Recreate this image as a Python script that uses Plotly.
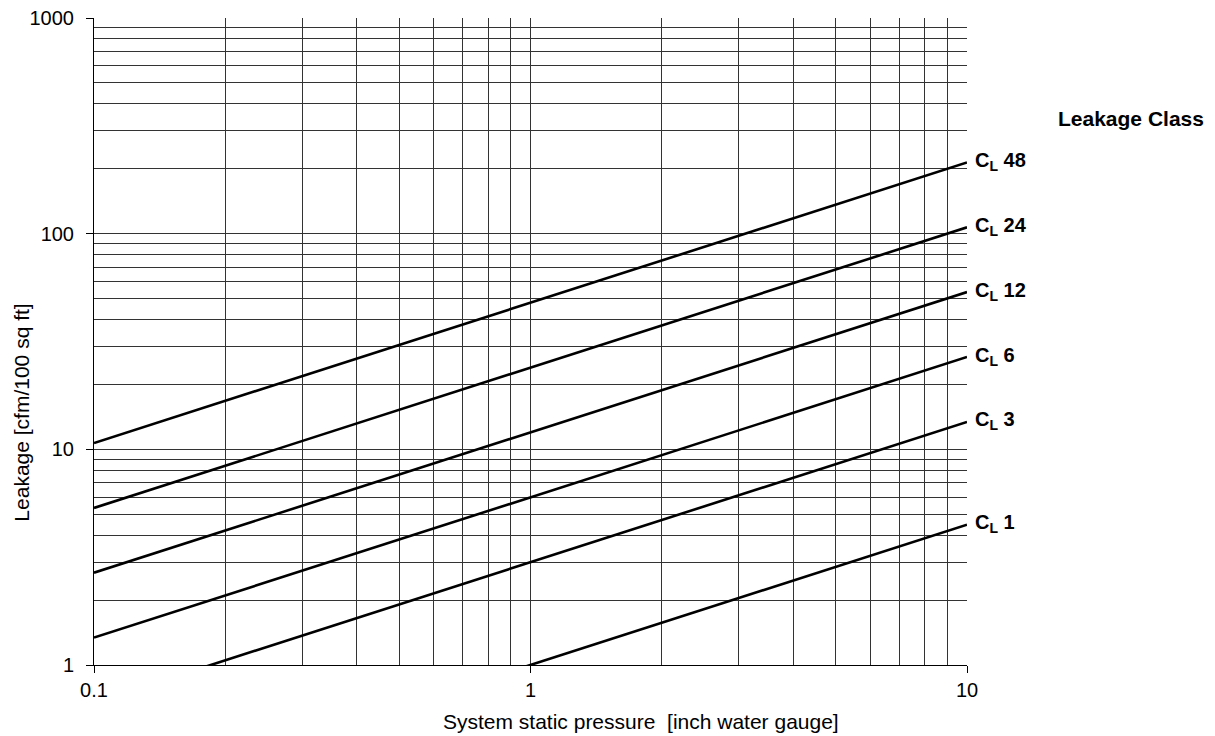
import plotly.graph_objects as go
import numpy as np

# Data (line endpoints at 0.1 and 10 in. w.g.)
pressure = [0.1, 10]
classes = ["48", "24", "12", "6", "3", "1"]
leak_at_01 = [10.7, 5.35, 2.68, 1.34, 0.67, 0.224]
leak_at_10 = [214, 107, 53.6, 26.8, 13.4, 4.47]

x_ticks = [0.1, 1, 10]
x_ticklabels = ["0.1", "1", "10"]
y_ticks = [1, 10, 100, 1000]
y_ticklabels = ["1", "10", "100", "1000"]

FONT = "Liberation Sans, Arial, sans-serif"

fig = go.Figure()
for c, a, b in zip(classes, leak_at_01, leak_at_10):
    fig.add_trace(go.Scatter(x=pressure, y=[a, b], mode="lines",
                             line=dict(color="black", width=2.6),
                             showlegend=False, hoverinfo="skip", cliponaxis=True))
    fig.add_annotation(x=1, xref="paper", y=np.log10(b), yref="y",
                       text=f"<b>C<sub>L</sub> {c}</b>", showarrow=False,
                       xanchor="left", yanchor="middle", xshift=6, yshift=1,
                       font=dict(family=FONT, size=20, color="black"))

fig.add_annotation(x=1.188, y=0.844, xref="paper", yref="paper",
                   text="<b>Leakage Class</b>", showarrow=False,
                   xanchor="center", yanchor="middle",
                   font=dict(family=FONT, size=21, color="black"))

fig.add_annotation(x=0.6266, y=-0.0866, xref="paper", yref="paper",
                   text="System static pressure  [inch water gauge]", showarrow=False,
                   xanchor="center", yanchor="middle",
                   font=dict(family=FONT, size=21, color="black"))
fig.add_annotation(x=-0.0825, y=0.39, xref="paper", yref="paper",
                   text="Leakage [cfm/100 sq ft]", showarrow=False, textangle=-90,
                   xanchor="center", yanchor="middle",
                   font=dict(family=FONT, size=21, color="black"))

grid = "#333333"
fig.update_xaxes(type="log", range=[-1, 1], tickvals=x_ticks, ticktext=x_ticklabels,
                 showgrid=True, gridcolor=grid, gridwidth=1,
                 minor=dict(dtick="D1", showgrid=True, gridcolor=grid, gridwidth=1, ticks=""),
                 showline=True, linecolor="black", linewidth=1,
                 ticks="outside", ticklen=7, tickcolor="black",
                 tickfont=dict(family=FONT, size=20, color="black"),
                 zeroline=False, automargin=False)
fig.update_yaxes(type="log", range=[0, 3], tickvals=y_ticks, ticktext=y_ticklabels,
                 showgrid=True, gridcolor=grid, gridwidth=1,
                 minor=dict(dtick="D1", showgrid=True, gridcolor=grid, gridwidth=1, ticks=""),
                 showline=True, linecolor="black", linewidth=1,
                 ticks="outside", ticklen=7, tickcolor="black",
                 ticklabelstandoff=8,
                 tickfont=dict(family=FONT, size=20, color="black"),
                 zeroline=False, automargin=False)

fig.update_layout(width=1215, height=736, plot_bgcolor="white", paper_bgcolor="white",
                  margin=dict(l=94, r=248, t=18, b=71, autoexpand=False),
                  font=dict(family=FONT, color="black"))

fig.write_html("out.html", config={"displayModeBar": False},
               post_script="document.body.style.margin='0';document.body.style.padding='0';")
